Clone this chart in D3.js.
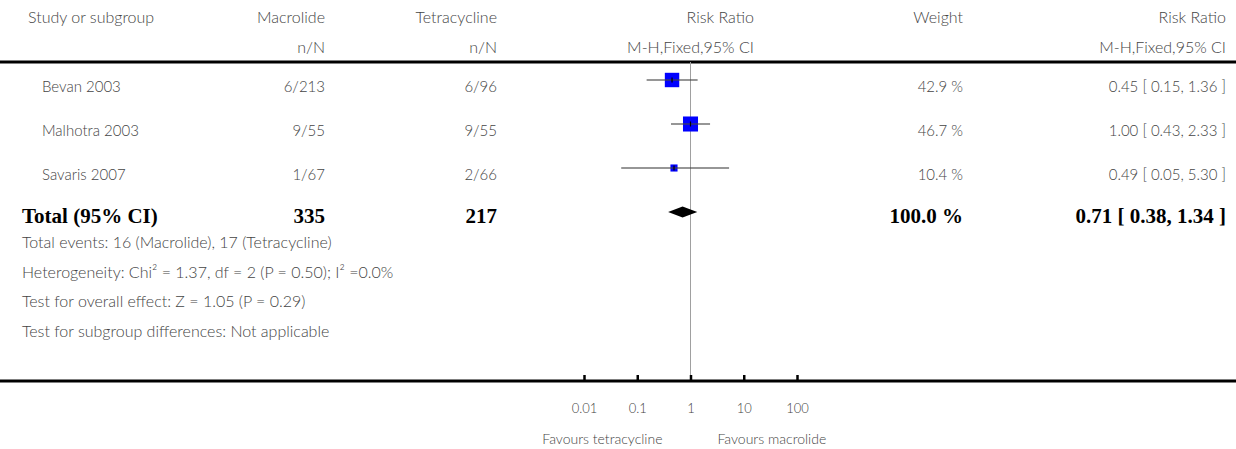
<!DOCTYPE html>
<meta charset="utf-8">
<script src="https://d3js.org/d3.v7.min.js"></script>
<style>
  body { margin: 0; background: #fff; }
  text { font-family: Lato, "Open Sans", sans-serif; font-weight: 300; fill: #444; }
  .bold { font-family: "Liberation Serif", "DejaVu Serif", serif; font-weight: bold; fill: #000; }
</style>
<body>
<div id="my_dataviz"></div>
<script>

  // study rows
  const studies = ["Bevan 2003", "Malhotra 2003", "Savaris 2007"]
  const macrolide = ["6/213", "9/55", "1/67"]
  const tetracycline = ["6/96", "9/55", "2/66"]
  const rr = [0.45, 1.00, 0.49]
  const lower = [0.15, 0.43, 0.05]
  const upper = [1.36, 2.33, 5.30]
  const weights = [42.9, 46.7, 10.4]

  // pooled result
  const totalLabel = "Total (95% CI)"
  const totalN = ["335", "217"]
  const totalRR = [0.71, 0.38, 1.34]   // estimate, lower, upper
  const totalWeight = 100.0

  const notes = [
    "Total events: 16 (Macrolide), 17 (Tetracycline)",
    "Heterogeneity: Chi\u00b2 = 1.37, df = 2 (P = 0.50); I\u00b2 =0.0%",
    "Test for overall effect: Z = 1.05 (P = 0.29)",
    "Test for subgroup differences: Not applicable"
  ]

  const tickValues = [0.01, 0.1, 1, 10, 100]
  const tickLabels = ["0.01", "0.1", "1", "10", "100"]
  const favours = ["Favours tetracycline", "Favours macrolide"]

  const width = 1236, height = 449

  const svg = d3.select("#my_dataviz")
    .append("svg")
    .attr("width", width)
    .attr("height", height)

  // scales
  const x = d3.scaleLog().domain([0.01, 100]).range([584, 797])
  const rowY = d3.scalePoint().domain(d3.range(4)).range([80, 212])
  const side = d3.scaleSqrt().domain([0, 100]).range([0, 22])

  const fmt = d3.format(".2f")
  const ciText = (e, l, u) => `${fmt(e)} [ ${fmt(l)}, ${fmt(u)} ]`

  // column right edges
  const colStudy = 28, colMac = 325, colTet = 497, colW = 963, colRR = 1226
  const fs = "16px", fsNum = "15px", fsBold = "21px"

  // ---- header ----
  const head = svg.append("g").style("font-size", fs)
  head.append("text").attr("x", colStudy).attr("y", 23).text("Study or subgroup")
  head.append("text").attr("x", colMac).attr("y", 23).attr("text-anchor", "end").text("Macrolide")
  head.append("text").attr("x", colMac).attr("y", 53).attr("text-anchor", "end").text("n/N")
  head.append("text").attr("x", colTet).attr("y", 23).attr("text-anchor", "end").text("Tetracycline")
  head.append("text").attr("x", colTet).attr("y", 53).attr("text-anchor", "end").text("n/N")
  head.append("text").attr("x", 754).attr("y", 23).attr("text-anchor", "end").text("Risk Ratio")
  head.append("text").attr("x", x(1)).attr("y", 53).attr("text-anchor", "middle").text("M-H,Fixed,95% CI")
  head.append("text").attr("x", colW).attr("y", 23).attr("text-anchor", "end").text("Weight")
  head.append("text").attr("x", colRR).attr("y", 23).attr("text-anchor", "end").text("Risk Ratio")
  head.append("text").attr("x", colRR).attr("y", 53).attr("text-anchor", "end").text("M-H,Fixed,95% CI")

  // thick rule under header
  svg.append("line").attr("x1", 0).attr("x2", width).attr("y1", 62).attr("y2", 62)
    .attr("stroke", "#000").attr("stroke-width", 3)

  // reference line at RR = 1
  svg.append("line").attr("x1", x(1)).attr("x2", x(1)).attr("y1", 62).attr("y2", 381)
    .attr("stroke", "#a0a0a0").attr("stroke-width", 1)

  // ---- study rows ----
  const rows = svg.append("g").selectAll("g")
    .data(studies)
    .join("g")
    .style("font-size", fsNum)

  const ty0 = (d, i) => rowY(i) + 11.5
  rows.append("text").attr("x", 42).attr("y", ty0).text(d => d)
  rows.append("text").attr("x", colMac).attr("y", ty0)
    .attr("text-anchor", "end").text((d, i) => macrolide[i])
  rows.append("text").attr("x", colTet).attr("y", ty0)
    .attr("text-anchor", "end").text((d, i) => tetracycline[i])
  rows.append("text").attr("x", colW).attr("y", ty0)
    .attr("text-anchor", "end").text((d, i) => weights[i].toFixed(1) + " %")
  rows.append("text").attr("x", colRR).attr("y", ty0)
    .attr("text-anchor", "end")
    .text((d, i) => ciText(rr[i], lower[i], upper[i]))

  // squares
  rows.append("rect")
    .attr("x", (d, i) => x(rr[i]) - side(weights[i]) / 2)
    .attr("y", (d, i) => rowY(i) - side(weights[i]) / 2)
    .attr("width", (d, i) => side(weights[i]))
    .attr("height", (d, i) => side(weights[i]))
    .attr("fill", "#0000ff")

  // confidence intervals
  rows.append("line")
    .attr("x1", (d, i) => x(lower[i]))
    .attr("x2", (d, i) => x(upper[i]))
    .attr("y1", (d, i) => rowY(i))
    .attr("y2", (d, i) => rowY(i))
    .attr("stroke", "#444").attr("stroke-opacity", 0.75).attr("stroke-width", 1.6)

  // estimate tick
  rows.append("line")
    .attr("x1", (d, i) => x(rr[i]))
    .attr("x2", (d, i) => x(rr[i]))
    .attr("y1", (d, i) => rowY(i) - 2.5)
    .attr("y2", (d, i) => rowY(i) + 2.5)
    .attr("stroke", "#000").attr("stroke-width", 1.2)

  // ---- total row ----
  const ty = rowY(3)
  const tot = svg.append("g").style("font-size", fsBold)
  tot.append("text").attr("class", "bold").attr("x", 22).attr("y", ty + 10.5).text(totalLabel)
  tot.append("text").attr("class", "bold").attr("x", colMac).attr("y", ty + 10.5)
    .attr("text-anchor", "end").text(totalN[0])
  tot.append("text").attr("class", "bold").attr("x", colTet).attr("y", ty + 10.5)
    .attr("text-anchor", "end").text(totalN[1])
  tot.append("text").attr("class", "bold").attr("x", colW).attr("y", ty + 10.5)
    .attr("text-anchor", "end").text(totalWeight.toFixed(1) + " %")
  tot.append("text").attr("class", "bold").attr("x", colRR).attr("y", ty + 10.5)
    .attr("text-anchor", "end")
    .text(ciText(totalRR[0], totalRR[1], totalRR[2]))

  // pooled diamond
  svg.append("path")
    .attr("d", `M${x(totalRR[1])},${ty} L${x(totalRR[0])},${ty - 5.5} L${x(totalRR[2])},${ty} L${x(totalRR[0])},${ty + 5.5} Z`)
    .attr("fill", "#000")

  // ---- notes ----
  svg.append("g").selectAll("text")
    .data(notes)
    .join("text")
      .attr("x", 22)
      .attr("y", (d, i) => 248 + i * 29.5)
      .style("font-size", fs)
      .text(d => d)

  // ---- axis ----
  svg.append("line").attr("x1", 0).attr("x2", width).attr("y1", 381).attr("y2", 381)
    .attr("stroke", "#000").attr("stroke-width", 3)

  const axis = svg.append("g")
    .attr("transform", "translate(0,381)")
    .call(d3.axisBottom(x)
      .tickValues(tickValues)
      .tickFormat((d, i) => tickLabels[i])
      .tickSizeInner(-6)
      .tickSizeOuter(0)
      .tickPadding(23))
  axis.select(".domain").remove()
  axis.selectAll(".tick line").attr("stroke", "#000").attr("stroke-width", 2.5)
  axis.selectAll(".tick text").style("font-size", "13px")
    .style("font-family", "Lato, sans-serif").style("font-weight", 300).attr("fill", "#444")

  svg.append("text").attr("x", x(1) - 28).attr("y", 444).attr("text-anchor", "end")
    .style("font-size", "14px").text(favours[0])
  svg.append("text").attr("x", x(1) + 27).attr("y", 444)
    .style("font-size", "14px").text(favours[1])

</script>
</body>
